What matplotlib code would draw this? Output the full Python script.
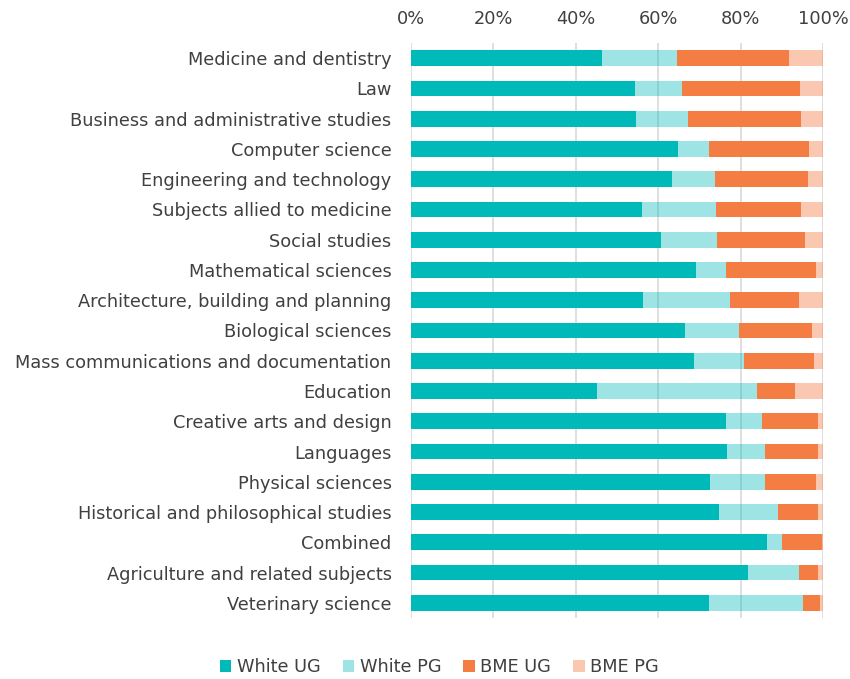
import matplotlib
matplotlib.use("Agg")
import matplotlib.pyplot as plt
from matplotlib.ticker import PercentFormatter
import numpy as np

subjects = [
    "Medicine and dentistry", "Law", "Business and administrative studies",
    "Computer science", "Engineering and technology", "Subjects allied to medicine",
    "Social studies", "Mathematical sciences", "Architecture, building and planning",
    "Biological sciences", "Mass communications and documentation", "Education",
    "Creative arts and design", "Languages", "Physical sciences",
    "Historical and philosophical studies", "Combined",
    "Agriculture and related subjects", "Veterinary science",
]

white_ug = [46.4, 54.4, 54.7, 64.8, 63.3, 56.1, 60.7, 69.3, 56.3, 66.6,
            68.8, 45.1, 76.5, 76.7, 72.5, 74.8, 86.5, 81.7, 72.4]
white_pg = [18.1, 11.5, 12.5, 7.6, 10.4, 17.9, 13.6, 7.1, 21.2, 12.9,
            12.1, 38.9, 8.8, 9.2, 13.5, 14.3, 3.6, 12.6, 22.8]
bme_ug = [27.2, 28.6, 27.4, 24.3, 22.7, 20.7, 21.4, 21.8, 16.7, 17.9,
          17.0, 9.3, 13.6, 13.0, 12.3, 9.6, 9.7, 4.6, 4.1]
bme_pg = [8.3, 5.5, 5.4, 3.3, 3.6, 5.3, 4.3, 1.8, 5.8, 2.6,
          2.1, 6.7, 1.1, 1.1, 1.7, 1.3, 0.2, 1.1, 0.7]

series = [
    ("White UG", white_ug, "#00B9B9", 1.0),
    ("White PG", white_pg, "#00B9B9", 0.38),
    ("BME UG", bme_ug, "#F47D43", 1.0),
    ("BME PG", bme_pg, "#F47D43", 0.42),
]

text_color = "#404040"
plt.rcParams["font.family"] = ["DejaVu Sans"]

fig = plt.figure(figsize=(8.5, 6.79), dpi=100)
ax = fig.add_axes([0.4835, 0.0899, 0.4847, 0.8468])

y = np.arange(len(subjects))
left = np.zeros(len(subjects))
for name, vals, color, alpha in series:
    vals = np.array(vals)
    ax.barh(y, vals, left=left, height=0.52, color=color, alpha=alpha,
            label=name, zorder=2, linewidth=0)
    left += vals

ax.set_xlim(0, 100)
ax.set_ylim(len(subjects) - 0.5, -0.5)
ax.set_yticks(y)
ax.set_yticklabels(subjects, fontsize=12.8, color=text_color)
ax.xaxis.tick_top()
ax.set_xticks(np.arange(0, 101, 20))
ax.xaxis.set_major_formatter(PercentFormatter(decimals=0))
ax.tick_params(axis="x", labelsize=12.8, labelcolor=text_color, length=0, pad=11)
ax.tick_params(axis="y", length=0, pad=14)
ax.grid(axis="x", color="#d9d9d9", linewidth=1.2, zorder=0)
ax.set_axisbelow(True)
for s in ax.spines.values():
    s.set_visible(False)

handles, labels = ax.get_legend_handles_labels()
fig.legend(handles, labels, loc="center", bbox_to_anchor=(0.517, 0.017),
           ncol=4, frameon=False, fontsize=12.8, handlelength=0.65,
           handleheight=0.65, handletextpad=0.3, columnspacing=1.25,
           labelcolor=text_color)

fig.savefig("out.png", dpi=100)
